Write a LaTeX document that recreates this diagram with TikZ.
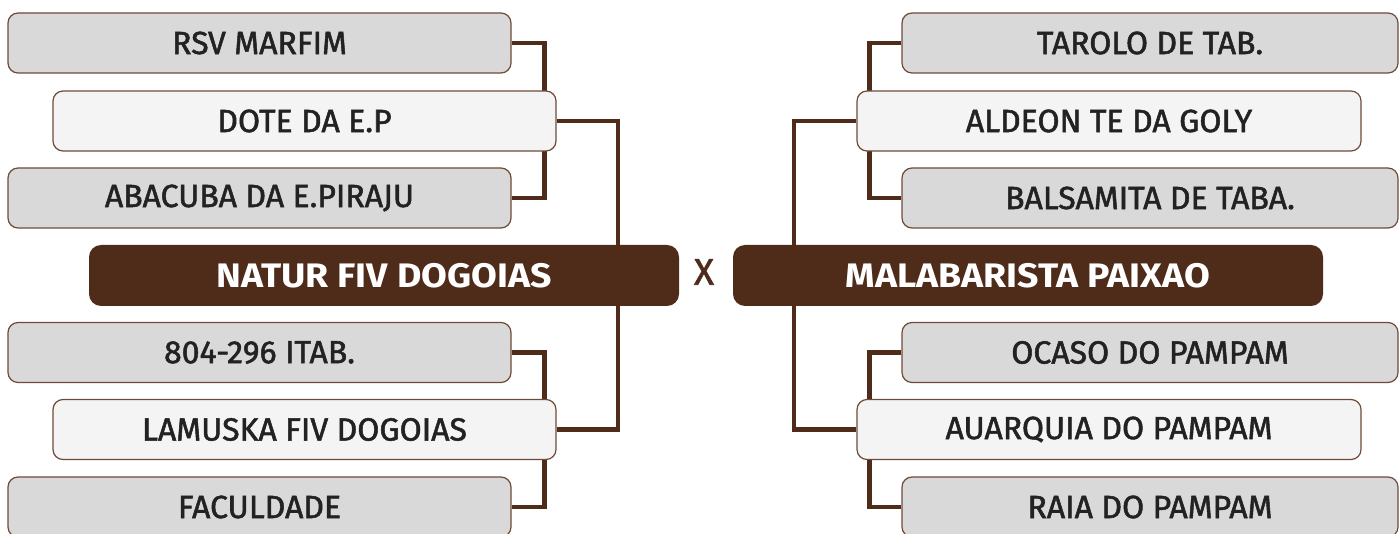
\documentclass[tikz,border=0pt]{standalone}
\usepackage{fontspec}
\setmainfont{Fira Sans}[UprightFeatures={FakeBold=1.6}]
\newfontfamily\finalfont{Fira Sans}[UprightFont=* Bold, FakeStretch=1.1]
\usetikzlibrary{backgrounds}
\definecolor{brn}{HTML}{4F2B1A}
\definecolor{bord}{HTML}{6E4A38}
\definecolor{greyfill}{HTML}{D9D9D9}
\definecolor{lightfill}{HTML}{F4F4F4}
\definecolor{txt}{HTML}{222222}
\begin{document}
\begin{tikzpicture}[x=1pt,y=-1pt,
  team/.style={draw=bord, line width=1.2pt, rounded corners=10pt, minimum height=60pt, inner sep=0pt, text=txt, font=\fontsize{32}{36}\selectfont},
  outerL/.style={team, fill=greyfill, minimum width=503pt},
  midL/.style={team, fill=lightfill, minimum width=503pt},
  outerR/.style={team, fill=greyfill, minimum width=496pt},
  midR/.style={team, fill=lightfill, minimum width=504pt},
  finalist/.style={fill=brn, rounded corners=12pt, minimum width=590pt, minimum height=61pt, inner sep=0pt, text=white, font=\finalfont\fontsize{34}{38}\selectfont},
  link/.style={draw=brn, line width=4.5pt}]
\useasboundingbox (0,0) rectangle (1399,534);
% left side
\node[outerL] (rsv) at (259.5,43) {RSV MARFIM};
\node[midL] (dote) at (304.5,121) {DOTE DA E.P};
\node[outerL] (aba) at (259.5,198) {ABACUBA DA E.PIRAJU};
\node[finalist] (natur) at (384,275.5) {NATUR FIV DOGOIAS};
\node[outerL] (itab) at (259.5,352.5) {804-296 ITAB.};
\node[midL] (lam) at (304.5,429.5) {LAMUSKA FIV DOGOIAS};
\node[outerL] (fac) at (259.5,507) {FACULDADE};
% right side
\node[outerR] (tar) at (1150,43) {TAROLO DE TAB.};
\node[midR] (ald) at (1109,121) {ALDEON TE DA GOLY};
\node[outerR] (bal) at (1150,198) {BALSAMITA DE TABA.};
\node[finalist] (mal) at (1028,275.5) {MALABARISTA PAIXAO};
\node[outerR] (oca) at (1150,352.5) {OCASO DO PAMPAM};
\node[midR] (auq) at (1109,429.5) {AUARQUIA DO PAMPAM};
\node[outerR] (raia) at (1150,507) {RAIA DO PAMPAM};
% versus
\node[text=brn, font=\fontsize{37}{40}\selectfont, inner sep=0pt] (vs) at (704,272) {X};
\begin{scope}[on background layer]
\draw[link] (rsv.east) -- ++(33,0) |- (aba.east);
\draw[link] (itab.east) -- ++(33,0) |- (fac.east);
\draw[link] (dote.east) -| ([xshift=234pt]natur.north);
\draw[link] (lam.east) -| ([xshift=234pt]natur.south);
\draw[link] (tar.west) -- ++(-32,0) |- (bal.west);
\draw[link] (oca.west) -- ++(-32,0) |- (raia.west);
\draw[link] (ald.west) -| ([xshift=-234pt]mal.north);
\draw[link] (auq.west) -| ([xshift=-234pt]mal.south);
\end{scope}
\end{tikzpicture}
\end{document}
